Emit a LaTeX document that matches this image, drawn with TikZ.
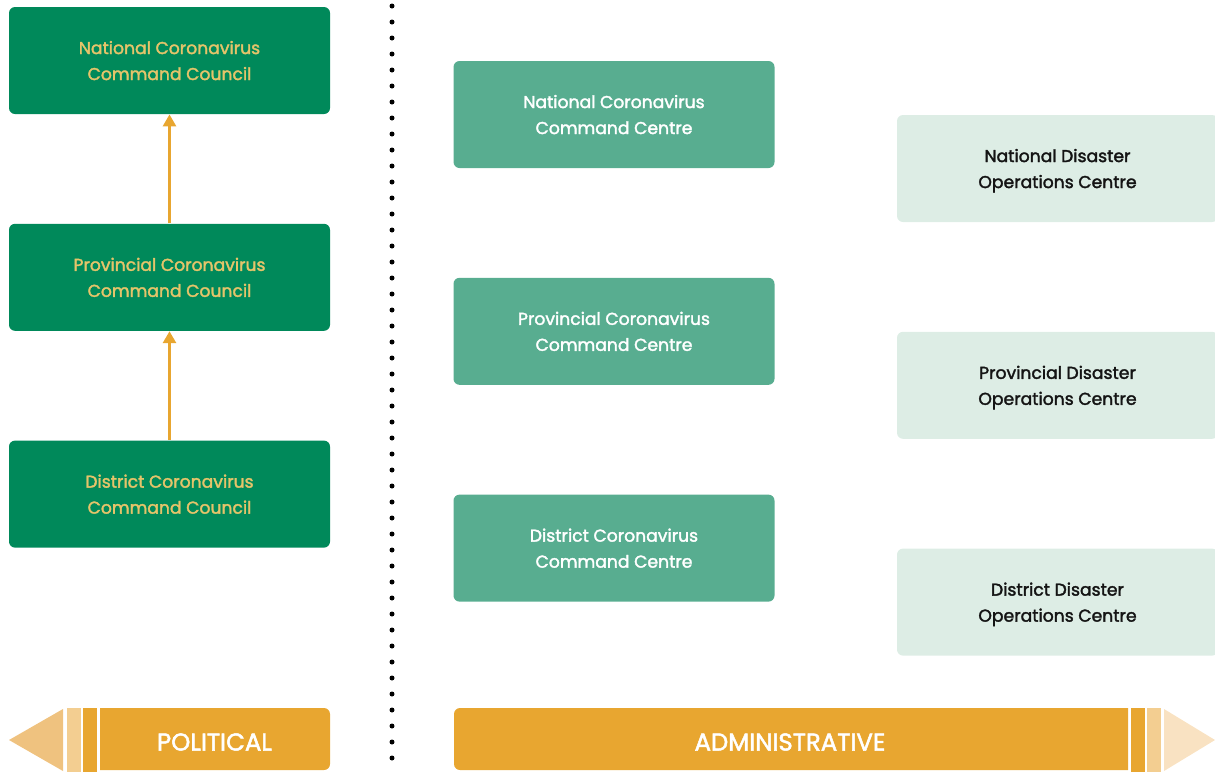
\documentclass[tikz,border=0pt]{standalone}
\usepackage{fontspec}
\setmainfont{Poppins}[FakeBold=2]
\usetikzlibrary{positioning, arrows.meta}

\definecolor{darkgreen}{HTML}{00895A}
\definecolor{midgreen}{HTML}{58AD90}
\definecolor{palegreen}{HTML}{DDEDE5}
\definecolor{gold}{HTML}{E5C46A}
\definecolor{banner}{HTML}{E8A630}
\definecolor{bannerlight}{HTML}{F3CE91}
\definecolor{tipleft}{HTML}{EFC27F}
\definecolor{tipright}{HTML}{F9E2C2}

\begin{document}
\begin{tikzpicture}[
						x=0.5pt, y=-0.5pt,
						node distance={54.5pt},
						box/.style = {rectangle, rounded corners=3pt, minimum width=160.5pt, minimum height=53.5pt, align=center, font=\fontsize{8.6}{13}\selectfont, text depth=-2pt},
						council/.style = {box, fill=darkgreen, text=gold},
						centre/.style = {box, fill=midgreen, text=white},
						ops/.style = {box, fill=palegreen, text=black!92},
						label/.style = {text=white, font=\fontsize{12.2}{14}\selectfont}
					]
\useasboundingbox (0,0) rectangle (1215,772);

% political column
\node[council] (ncc) at (169.5,60.5) {National Coronavirus\\Command Council};
\node[council] (pcc) [below=of ncc] {Provincial Coronavirus\\Command Council};
\node[council] (dcc) [below=of pcc] {District Coronavirus\\Command Council};

% administrative columns
\node[centre] (ncentre) at (614,114.5) {National Coronavirus\\Command Centre};
\node[centre] (pcentre) [below=of ncentre] {Provincial Coronavirus\\Command Centre};
\node[centre] (dcentre) [below=of pcentre] {District Coronavirus\\Command Centre};

\node[ops] (ndoc) at (1057.5,168.5) {National Disaster\\Operations Centre};
\node[ops] (pdoc) [below=of ndoc] {Provincial Disaster\\Operations Centre};
\node[ops] (ddoc) [below=of pdoc] {District Disaster\\Operations Centre};

\draw[-{Triangle[length=6pt,width=6.5pt]}, banner, line width=1.4pt] (pcc) -- (ncc);
\draw[-{Triangle[length=6pt,width=6.5pt]}, banner, line width=1.4pt] (dcc) -- (pcc);

% dotted divider
\coordinate (divtop) at (392,6);
\coordinate (divbot) at (392,772);
\draw[line width=2.5pt, line cap=round, dash pattern=on 0pt off 8pt] (divtop) -- (divbot);

% political banner
\fill[tipleft] (9,740) -- (63,709) -- (63,771) -- cycle;
\fill[bannerlight] (67,708) rectangle (81,772);
\fill[banner] (83,708) rectangle (97,772);
\fill[banner] (100,708) [rounded corners=3pt] -- (330,708) -- (330,770) [sharp corners] -- (100,770) -- cycle;
\node[label] (political) at (214.5,742) {POLITICAL};

% administrative banner
\fill[banner] (1128,708) [rounded corners=3pt] -- (454,708) -- (454,770) [sharp corners] -- (1128,770) -- cycle;
\fill[banner] (1131,708) rectangle (1145,772);
\fill[bannerlight] (1147,708) rectangle (1161,772);
\fill[tipright] (1215,740) -- (1164,709) -- (1164,771) -- cycle;
\node[label] (administrative) at (790,742) {ADMINISTRATIVE};
\end{tikzpicture}
\end{document}
